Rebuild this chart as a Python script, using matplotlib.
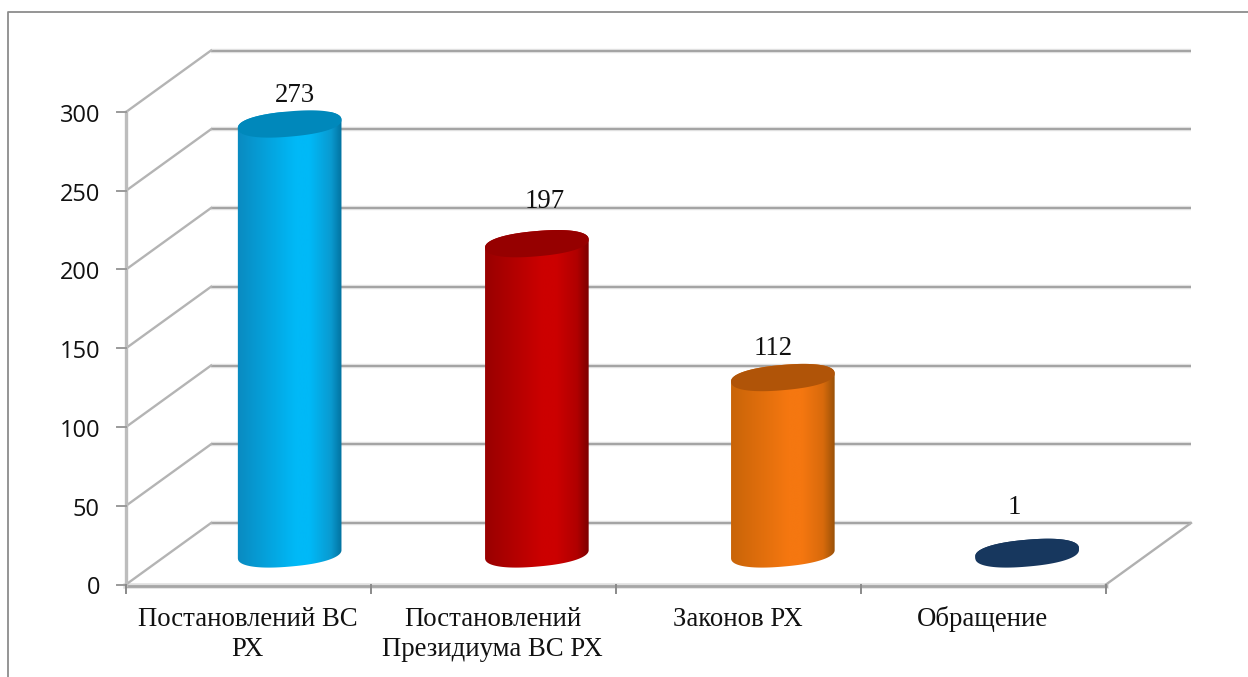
import numpy as np
import matplotlib
matplotlib.use("Agg")
import matplotlib.pyplot as plt
from matplotlib.path import Path
from matplotlib.patches import PathPatch
from matplotlib.colors import LinearSegmentedColormap

categories = ["Постановлений ВС\nРХ", "Постановлений\nПрезидиума ВС РХ", "Законов РХ", "Обращение"]
values = [273, 197, 112, 1]
y_ticks = [0, 50, 100, 150, 200, 250, 300]
body_colors = [("#0A8AC0", "#00B9F7", "#0A9AD0", "#006A96"),
               ("#980000", "#CC0000", "#B00000", "#780000"),
               ("#C86408", "#F57710", "#D86A0C", "#945008"),
               ("#17375E", "#17375E", "#17375E", "#17375E")]
top_colors = ["#0088BB", "#960000", "#B05408", "#17375E"]
bar_shift = [0.168, 0.177, 0.181, 0.178]
label_dx = [5, 7.5, -10, -13]
label_dy = [28, 42, 29, 45]

W, H = 1248, 677
fig = plt.figure(figsize=(W / 100, H / 100), dpi=100, facecolor="white")
L, R, T, B = 126, 1106, 112, 584.5
ax = fig.add_axes([L / W, 1 - B / H, (R - L) / W, (B - T) / H])
ax.set_xlim(0, 4)
ax.set_ylim(0, 300)
ax.axis("off")
px = (R - L) / 4          # pixels per category
py = (B - T) / 300        # pixels per unit
dx, dy = 85 / px, 61.5 / py

# Walls, grid
for v in y_ticks:
    ax.plot([dx, 4 + dx], [v + dy, v + dy], color="#E8E8E8", lw=3.2, clip_on=False, zorder=0.5,
            solid_capstyle="butt")
    ax.plot([dx, 4 + dx], [v + dy, v + dy], color="#A4A4A4", lw=1.6, clip_on=False, zorder=1,
            solid_capstyle="butt")
    ax.plot([0, dx], [v, v + dy], color="#B4B4B4", lw=1.7, clip_on=False, zorder=1)
ax.plot([0, 4], [-0.8, -0.8], color="#E0E0E0", lw=4, clip_on=False, zorder=0.5)
ax.plot([0, 4], [-0.8, -0.8], color="#A6A6A6", lw=2, clip_on=False, zorder=1)
ax.plot([4, 4 + dx], [0, dy], color="#B0B0B0", lw=1.7, clip_on=False, zorder=1)
ax.plot([0, 0], [0, 300], color="#BDBDBD", lw=2.4, clip_on=False, zorder=1)
for v in y_ticks:
    ax.plot([-9 / px, 0], [v, v], color="#9A9A9A", lw=1.4, clip_on=False, zorder=1)
    ax.text(-26 / px, v - 0.6, str(v), ha="right", va="center_baseline", fontsize=17,
            family="Open Sans", color="#111111")
for i in range(5):
    ax.plot([i, i], [0, -8 / py], color="#8A8A8A", lw=1.4, clip_on=False, zorder=1)

# Cylinders
a, b, th = 52.0, 12.6, np.deg2rad(5.0)
base = 19.4      # base ellipse centre height, in value units
SQ = 0.88        # slight squareness of the ellipse ends


def ell(cx, cy, t):
    c, s = np.cos(t), np.sin(t)
    c = np.sign(c) * np.abs(c) ** SQ
    s = np.sign(s) * np.abs(s) ** SQ
    ox = a * c * np.cos(th) - b * s * np.sin(th)
    oy = a * c * np.sin(th) + b * s * np.cos(th)
    return cx + ox / px, cy + oy / py


for i, (v, cols, tc) in enumerate(zip(values, body_colors, top_colors)):
    cx = i + 0.5 + bar_shift[i]
    y0, y1 = base, base + v
    t_low = np.linspace(np.pi, 2 * np.pi, 60)
    t_up = np.linspace(0, np.pi, 60)
    xb, yb = ell(cx, y0, t_low)
    xt, yt = ell(cx, y1, t_up)
    verts = np.r_[np.c_[xb, yb], np.c_[xt, yt], [[xb[0], yb[0]]]]
    codes = [Path.MOVETO] + [Path.LINETO] * (len(verts) - 2) + [Path.CLOSEPOLY]
    clip = PathPatch(Path(verts, codes), fc="none", ec="none", transform=ax.transData)
    ax.add_patch(clip)
    cmap = LinearSegmentedColormap.from_list(
        "c", [(0, cols[0]), (0.55, cols[1]), (0.68, cols[1]), (0.88, cols[2]), (1, cols[3])])
    im = ax.imshow(np.linspace(0, 1, 256)[None, :], cmap=cmap, aspect="auto",
                   extent=[cx - 53 / px, cx + 53 / px, y0 - 20, y1 + 20],
                   zorder=3, clip_on=True, interpolation="bilinear")
    im.set_clip_path(clip)
    xe, ye = ell(cx, y1, np.linspace(0, 2 * np.pi, 120))
    ax.fill(xe, ye, color=tc, zorder=4, lw=0, clip_on=False)
    ax.text(cx + label_dx[i] / px, y1 + label_dy[i] / py, str(v), ha="center", va="center",
            fontsize=19.3, family="Liberation Serif", color="#111111", zorder=5)

ax.set_xlim(0, 4)
ax.set_ylim(0, 300)

for i, c in enumerate(categories):
    ax.text(i + 0.5 - 1 / px, -22 / py, c, ha="center", va="top", fontsize=19.3,
            family="Liberation Serif", color="#111111", linespacing=1.28, clip_on=False)

# Outer frame
frame = fig.add_axes([0, 0, 1, 1], facecolor="none")
frame.set_xlim(0, W)
frame.set_ylim(H, 0)
frame.axis("off")
frame.plot([7.5, 7.5, W], [H, 12, 12], color="#8C8C8C", lw=1.3)

fig.savefig("out.png", dpi=100)
